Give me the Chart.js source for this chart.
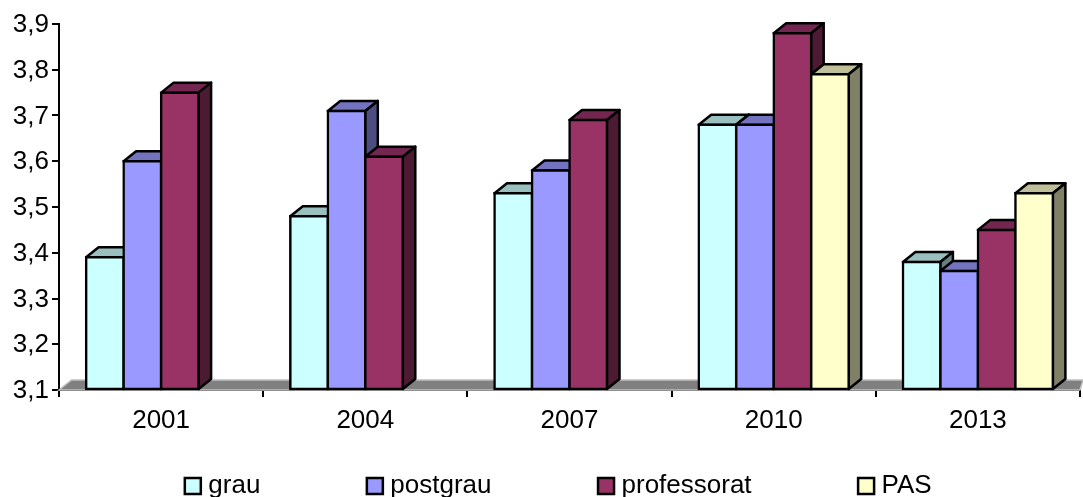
<!DOCTYPE html>
<html>
<head>
<meta charset="utf-8">
<title>grau postgrau professorat PAS</title>
<style>
    html, body { margin: 0; padding: 0; background: #fff; overflow: hidden; }
    canvas { display: block; }
</style>
<script src="https://cdn.jsdelivr.net/npm/chart.js@4/dist/chart.umd.min.js"></script>
</head>
<body>
<canvas id="statsChart" width="1083" height="497"></canvas>
<script>
const categories = ['2001', '2004', '2007', '2010', '2013'];
const grau = [3.39, 3.48, 3.53, 3.68, 3.38];
const postgrau = [3.60, 3.71, 3.58, 3.68, 3.36];
const professorat = [3.75, 3.61, 3.69, 3.88, 3.45];
const pas = [null, null, null, 3.79, 3.53];

const yMin = 3.1;
const yMax = 3.9;
const yStep = 0.1;

// fake 3D depth of the bars, in pixels
const depthX = 12.5;
const depthY = 10;
const outline = 2.5;

function makeSeries(label, data, front, top, side) {
    return {
        label: label,
        data: data,
        base: yMin,
        backgroundColor: front,
        borderColor: '#000',
        borderWidth: outline,
        borderSkipped: false,
        inflateAmount: outline / 2,
        topColor: top,
        sideColor: side
    };
}

function polygon(ctx, points, fill) {
    ctx.beginPath();
    points.forEach((p, i) => i ? ctx.lineTo(p[0], p[1]) : ctx.moveTo(p[0], p[1]));
    ctx.closePath();
    ctx.fillStyle = fill;
    ctx.fill();
    ctx.stroke();
}

function drawDepth(ctx, dataset, meta) {
    ctx.save();
    ctx.lineWidth = outline;
    ctx.strokeStyle = '#000';
    ctx.lineJoin = 'round';
    meta.data.forEach((bar, i) => {
        if (dataset.data[i] === null) return;
        const left = bar.x - bar.width / 2;
        const right = bar.x + bar.width / 2;
        polygon(ctx, [
            [left, bar.y],
            [left + depthX, bar.y - depthY],
            [right + depthX, bar.y - depthY],
            [right, bar.y]
        ], dataset.topColor);
        polygon(ctx, [
            [right, bar.y],
            [right + depthX, bar.y - depthY],
            [right + depthX, bar.base - depthY],
            [right, bar.base]
        ], dataset.sideColor);
    });
    ctx.restore();
}

const depthPlugin = {
    id: 'depth',
    beforeLayout(chart) {
        // the wide legend padding must not eat the plot height
        const legend = chart.legend;
        const fit = legend.fit;
        legend.fit = function () {
            fit.call(legend);
            legend.height = 60;
        };
    },
    afterLayout(chart) {
        const legend = chart.legend;
        legend.left += 21;
        legend.right += 21;
        legend.top = 473 - legend.options.labels.padding;
    },
    beforeDatasetsDraw(chart) {
        const ctx = chart.ctx;
        const area = chart.chartArea;
        const base = chart.scales.y.getPixelForValue(yMin);
        ctx.save();
        ctx.lineWidth = 1.5;
        ctx.strokeStyle = '#c0c0c0';
        polygon(ctx, [
            [area.left, base],
            [area.left + depthX, base - depthY],
            [chart.width, base - depthY],
            [area.right, base]
        ], '#808080');
        ctx.restore();

        // left to right, so each bar hides the side of the one before it
        chart.data.datasets.forEach((dataset, i) => {
            const meta = chart.getDatasetMeta(i);
            drawDepth(ctx, dataset, meta);
            meta.controller.draw();
        });
        return false;
    }
};

const textFont = { family: '"Liberation Sans", Arial, sans-serif', size: 26 };

new Chart(document.getElementById('statsChart').getContext('2d'), {
    type: 'bar',
    data: {
        labels: categories,
        datasets: [
            makeSeries('grau', grau, '#CCFFFF', '#99BFBF', '#668080'),
            makeSeries('postgrau', postgrau, '#9999FF', '#7373BF', '#4D4D80'),
            makeSeries('professorat', professorat, '#993366', '#732650', '#4D1A33'),
            makeSeries('PAS', pas, '#FFFFCC', '#BFBF99', '#808066')
        ]
    },
    options: {
        responsive: false,
        animation: false,
        events: [],
        categoryPercentage: 0.7345,
        barPercentage: 1,
        layout: { padding: { top: 24, right: 3, left: 0, bottom: 0 } },
        scales: {
            x: {
                z: 1,
                afterFit(scale) { scale.height = 47; },
                grid: { drawOnChartArea: false, color: '#000', lineWidth: 2, tickLength: 7 },
                border: { color: '#000', width: 2 },
                ticks: { color: '#000', font: textFont, padding: 8, maxRotation: 0 }
            },
            y: {
                z: 1,
                min: yMin,
                max: yMax,
                afterFit(scale) { scale.width = 59; },
                grid: { drawOnChartArea: false, color: '#000', lineWidth: 2, tickLength: 7 },
                border: { color: '#000', width: 2 },
                ticks: {
                    stepSize: yStep,
                    color: '#000',
                    font: textFont,
                    padding: 3,
                    labelOffset: 1,
                    callback: value => value.toFixed(1).replace('.', ',')
                }
            }
        },
        plugins: {
            title: { display: false },
            tooltip: { enabled: false },
            legend: {
                position: 'bottom',
                labels: {
                    color: '#000',
                    font: textFont,
                    usePointStyle: true,
                    pointStyle: 'rect',
                    boxWidth: 5,
                    boxHeight: 16,
                    padding: 112
                }
            }
        }
    },
    plugins: [depthPlugin]
});
</script>
</body>
</html>
